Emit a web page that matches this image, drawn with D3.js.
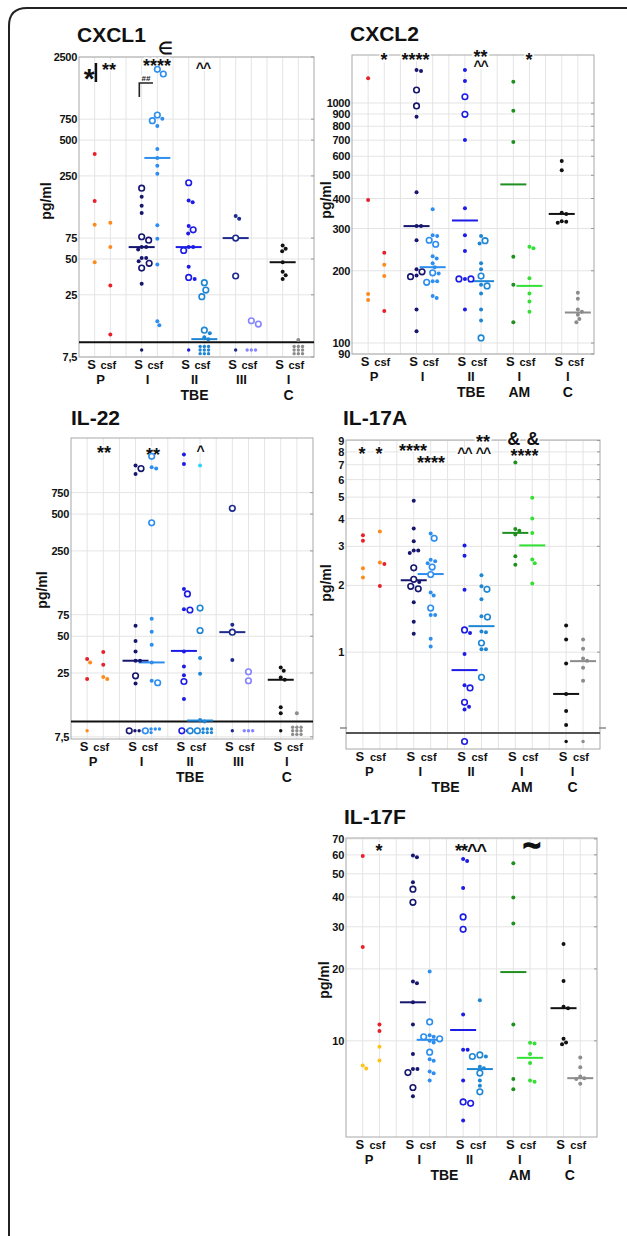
<!DOCTYPE html>
<html><head><meta charset="utf-8">
<script src="https://cdn.jsdelivr.net/npm/d3@7"></script>
<style>
body{margin:0;background:#fff}
svg text{font-family:"Liberation Sans",Arial,Helvetica,sans-serif;font-weight:bold;fill:#111}
</style>
</head><body>
<svg id="c" width="627" height="1236"></svg>
<script>
// ---------- categories ----------
const CATS_TBE = ["P","TBE-I","TBE-II","TBE-III","C"];
const CATS_AM  = ["P","TBE-I","TBE-II","AM","C"];
const NUMERAL  = {"P":"P","TBE-I":"I","TBE-II":"II","TBE-III":"III","AM":"I","C":"I"};

// ---------- tick labels ----------
const CXCL1_TICKS = [2500,750,500,250,75,50,25,7.5];
const CXCL2_TICKS = [1000,900,800,700,600,500,400,300,200,100,90];
const IL22_TICKS  = [750,500,250,75,50,25,7.5];
const IL17A_TICKS = [9,8,7,6,5,4,3,2,1];
const IL17F_TICKS = [70,60,50,40,30,20,10];

// ---------- data: [category, sample, marker (d = dot, o = open circle), values (pg/ml), colour key] ----------
const CXCL1_POINTS = [
  ["P","S","d",[382,154],"red"],["P","S","d",[97,47],"orange"],
  ["P","csf","d",[101,63],"orange"],["P","csf","d",[30,11.6],"red"],
  ["TBE-I","S","d",[167,140,122,63,63,60,51,51,48,31]],
  ["TBE-I","S","o",[197,72,77,46,42]],
  ["TBE-I","csf","d",[757,657,421,354,305,261,96,74,45,15.0,13.9]],
  ["TBE-I","csf","o",[1968,1799,728,813]],
  ["TBE-II","S","d",[155,150,95,82,63,63,43,34]],
  ["TBE-II","S","o",[219,88,59,35]],
  ["TBE-II","csf","d",[11.9,11.0,10.6]],
  ["TBE-II","csf","o",[31.6,27.4,24.1,12.6]],
  ["TBE-III","S","d",[115,109]],["TBE-III","S","o",[75,36]],
  ["TBE-III","csf","o",[15.1,14.2]],
  ["C","S","d",[65,61,58,47,39,36.5,34]],
  ["C","csf","d",[10.4]]
];
// below limit of detection: [category, sample, open circles, dots, colour key]
const CXCL1_BELOW = [["TBE-I","S",0,1],["TBE-II","S",0,1],["TBE-II","csf",0,9],["TBE-III","S",0,1],["TBE-III","csf",0,3],["C","csf",0,9]];
const CXCL1_MEDIANS = [["TBE-I","S",63],["TBE-I","csf",354],["TBE-II","S",63],["TBE-II","csf",10.6],["TBE-III","S",75],["C","S",47]];

const CXCL2_POINTS = [
  ["P","S","d",[1267,394],"red"],["P","S","d",[160,151],"orange"],
  ["P","csf","d",[238,136],"red"],["P","csf","d",[212,190],"orange"],
  ["TBE-I","S","d",[1359,1373,877,425,307,307,268,203,191,138,112]],
  ["TBE-I","S","o",[1133,972,198,189]],
  ["TBE-I","csf","d",[361,281,279,230,225,215,207,195,181,181,157,154]],
  ["TBE-I","csf","o",[268,258,196,179]],
  ["TBE-II","S","d",[1373,1235,701,364,281,242,185,138]],
  ["TBE-II","S","o",[1062,897,185,185]],
  ["TBE-II","csf","d",[279,260,215,203,175,161,138,124]],
  ["TBE-II","csf","o",[267,190,173,105]],
  ["AM","S","d",[1227,929,688,229,175,122]],
  ["AM","csf","d",[252,248,186,161,149,135]],
  ["C","S","d",[573,525,349,345,322,320,317]],
  ["C","csf","d",[162,153,138,135,131,126,122]]
];
const CXCL2_BELOW = [];
const CXCL2_MEDIANS = [["TBE-I","S",307],["TBE-I","csf",207],["TBE-II","S",324],["TBE-II","csf",181],["AM","S",458],["AM","csf",173],["C","S",345],["C","csf",134]];

const IL22_POINTS = [
  ["P","S","d",[32.5,22.3],"red"],["P","S","d",[30.5],"orange"],
  ["P","csf","d",[37.1,29.2],"red"],["P","csf","d",[23.2,22.3],"orange"],
  ["TBE-I","S","d",[1249,1067,61,45.6,37.5,31.5,31.5,20.5]],
  ["TBE-I","S","o",[1180,23.7]],
  ["TBE-I","csf","d",[1207,1180,69.5,54.4,42.6,30.5,21.6]],
  ["TBE-I","csf","o",[1487,424,20.8]],
  ["TBE-II","S","d",[1535,1288,122,83,37.5,28.3,24,15.3]],
  ["TBE-II","S","o",[111,82,21.3]],
  ["TBE-II","csf","d",[33.1,24.6,10.3,10.0]],
  ["TBE-II","csf","d",[1249],"cyan"],
  ["TBE-II","csf","o",[85,55.7]],
  ["TBE-III","S","d",[62,32]],["TBE-III","S","o",[558,54]],
  ["TBE-III","csf","o",[25.6,21.6]],
  ["C","S","d",[27.7,26.1,23,22,13.1,11.7]],
  ["C","csf","d",[11.7]]
];
const IL22_BELOW = [["P","S",0,1,"orange"],["TBE-I","S",1,3],["TBE-I","csf",1,4],["TBE-II","S",1,1],["TBE-II","csf",2,6],["TBE-III","S",0,1],["TBE-III","csf",0,3],["C","S",0,1],["C","csf",0,9]];
const IL22_MEDIANS = [["TBE-I","S",31.5],["TBE-I","csf",30.5],["TBE-II","S",37.9],["TBE-II","csf",10.2],["TBE-III","S",54],["C","S",22]];

const IL17A_POINTS = [
  ["P","S","d",[3.37,3.18],"red"],["P","S","d",[2.39,2.17],"orange"],
  ["P","csf","d",[3.50,2.54],"orange"],["P","csf","d",[2.50,1.99],"red"],
  ["TBE-I","S","d",[4.82,3.61,3.16,2.87,2.87,2.80,2.07,1.68,1.37,1.21]],
  ["TBE-I","S","o",[2.40,2.13,1.93,1.98]],
  ["TBE-I","csf","d",[3.43,2.61,2.57,2.52,1.86,1.80,1.47,1.47,1.15,1.06]],
  ["TBE-I","csf","o",[3.26,2.42,2.24,1.58]],
  ["TBE-II","S","d",[3.03,2.72,1.91,1.22,0.98,0.71,0.568,0.552]],
  ["TBE-II","S","o",[1.26,0.69,0.594]],
  ["TBE-II","csf","d",[2.22,1.98,1.73,1.45,1.24,1.23,1.03,1.03]],
  ["TBE-II","csf","o",[1.92,1.44,1.10,0.77]],
  ["AM","S","d",[7.16,3.59,3.53,3.39,2.71,2.48]],
  ["AM","csf","d",[4.97,4.01,3.45,2.62,2.52,2.04]],
  ["C","S","d",[1.32,1.14,0.89,0.648,0.543,0.47]],
  ["C","csf","d",[1.14,1.035,0.937,0.914,0.85,0.743]]
];
const IL17A_BELOW = [["TBE-II","S",1,0],["C","S",0,1],["C","csf",0,1]];
const IL17A_MEDIANS = [["TBE-I","S",2.11],["TBE-I","csf",2.25],["TBE-II","S",0.83],["TBE-II","csf",1.31],["AM","S",3.45],["AM","csf",3.03],["C","S",0.648],["C","csf",0.911]];

const IL17F_POINTS = [
  ["P","S","d",[59.4,24.7],"red"],["P","S","d",[7.89,7.66],"yellow"],
  ["P","csf","d",[11.7,11.0],"red"],["P","csf","d",[9.44,8.28],"yellow"],
  ["TBE-I","S","d",[59.6,58.7,46.1,17.7,17.4,14.5,11.7,8.80,7.62,7.62,5.87]],
  ["TBE-I","S","o",[43.1,38.0,7.37,6.38]],
  ["TBE-I","csf","d",[19.5,10.56,10.4,10.0,9.84,8.38,8.25,7.44,7.32,6.82]],
  ["TBE-I","csf","o",[12.0,10.4,10.2,8.97]],
  ["TBE-II","S","d",[57.6,56.6,43.6,12.9,9.17,9.17,6.82,4.64]],
  ["TBE-II","S","o",[33.0,29.3,5.48,5.55]],
  ["TBE-II","csf","d",[14.8,8.6,7.80,7.68,6.82,6.49]],
  ["TBE-II","csf","o",[8.73,8.6,7.33,6.12]],
  ["AM","S","d",[55.4,39.8,31.0,11.7,6.92,6.28]],
  ["AM","csf","d",[9.81,9.74,8.82,8.07,6.82,6.74]],
  ["C","S","d",[25.4,17.8,13.9,13.7,10.2,9.84,9.68]],
  ["C","csf","d",[8.52,7.76,7.09,6.98,6.93,6.61]]
];
const IL17F_BELOW = [];
const IL17F_MEDIANS = [["TBE-I","S",14.5],["TBE-I","csf",10.1],["TBE-II","S",11.1],["TBE-II","csf",7.62],["AM","S",19.4],["AM","csf",8.49],["C","S",13.7],["C","csf",6.98]];

// significance marks: [text, x slot, baseline offset from plot top, font size, heavy]
const CXCL1_MARKS = [["**",0.91,19,18],["****",3.98,15,18],["^^",6.91,16,14],["\u2208",4.49,-3,17],["##",3.28,24,8]];
const CXCL2_MARKS = [["*",0.98,11,18],["****",2.93,11,18],["**",6.97,8,18],["^^",6.97,16,14],["*",9.97,11,18]];
const IL22_MARKS  = [["**",1.05,21,18],["**",4.08,23,18],["^",7.0,18,14]];
const IL17A_MARKS = [["*",-0.05,20,18],["*",0.95,20,18],["****",2.96,17,18],["****",4.02,29,18],["^^",6.0,18,14],["^^",7.09,18,14],["**",7.09,8,18],["&",8.9,4.5,18],["&",10.05,4.5,18],["****",9.54,22,18]];
const IL17F_MARKS = [["*",0.97,19,18],["**^^",6.44,19,18],["~",10.1,18,30,1]];

// ---------- styling ----------
const CELL_COLOR = {"TBE-I|S":"#16166e","TBE-I|csf":"#2d8ef0","TBE-II|S":"#1c1ce6","TBE-II|csf":"#1f86d4",
  "TBE-III|S":"#1d2b8c","TBE-III|csf":"#8585ff","AM|S":"#1f8f1f","AM|csf":"#33e033","C|S":"#111111","C|csf":"#8c8c8c"};
const KEY_COLOR = {red:"#e8202a",orange:"#ff8a1c",yellow:"#ffc21a",cyan:"#2ed3f5"};

const panels = [
  {title:"CXCL1",cats:CATS_TBE,pts:CXCL1_POINTS,below:CXCL1_BELOW,med:CXCL1_MEDIANS,marks:CXCL1_MARKS,ticks:CXCL1_TICKS,
   box:{l:79,t:57,r:314,b:357},domain:[7.5,2500],lod:10,titleX:77,titleY:42,ylabX:47,ylabY:201,tbe:2,extra:"cxcl1"},
  {title:"CXCL2",cats:CATS_AM,pts:CXCL2_POINTS,below:CXCL2_BELOW,med:CXCL2_MEDIANS,marks:CXCL2_MARKS,ticks:CXCL2_TICKS,
   box:{l:352,t:55,r:594,b:354},domain:[90,1585],titleX:350,titleY:41,ylabX:327,ylabY:200,tbe:2},
  {title:"IL-22",cats:CATS_TBE,pts:IL22_POINTS,below:IL22_BELOW,med:IL22_MEDIANS,marks:IL22_MARKS,ticks:IL22_TICKS,
   box:{l:71,t:438,r:313,b:739},domain:[7.2,2100],lod:10,titleX:71,titleY:425,ylabX:43,ylabY:590,tbe:2},
  {title:"IL-17A",cats:CATS_AM,pts:IL17A_POINTS,below:IL17A_BELOW,med:IL17A_MEDIANS,marks:IL17A_MARKS,ticks:IL17A_TICKS,
   box:{l:346,t:440,r:600,b:749},scaleBottom:728,lodY:733,domain:[0.455,9.05],titleX:343,titleY:425,ylabX:327,ylabY:583,tbe:1.5},
  {title:"IL-17F",cats:CATS_AM,pts:IL17F_POINTS,below:IL17F_BELOW,med:IL17F_MEDIANS,marks:IL17F_MARKS,ticks:IL17F_TICKS,
   box:{l:346,t:838,r:597,b:1137},domain:[3.96,70.6],titleX:344,titleY:824,ylabX:325,ylabY:980,tbe:1.5}
];

const svg = d3.select("#c");
svg.append("path").attr("d","M9,1236 V26 Q9,8 27,8 H627").attr("fill","none").attr("stroke","#222").attr("stroke-width",2);

panels.forEach(drawPanel);

function drawPanel(p){
  const g = svg.append("g");
  const {l,t,r,b} = p.box;
  const sb = p.scaleBottom || b;
  const y = d3.scaleLog().domain(p.domain).range([sb,t]);
  const x = d3.scaleLinear().domain([-1,14]).range([l,r]);
  const slotOf = (cat,sub)=>p.cats.indexOf(cat)*3+(sub==="S"?0:1);
  const colorOf = (cat,sub,key)=> key ? KEY_COLOR[key] : CELL_COLOR[cat+"|"+sub];

  // grid
  g.append("g").selectAll("line").data(d3.range(0,14)).join("line")
    .attr("x1",d=>x(d)).attr("x2",d=>x(d)).attr("y1",t).attr("y2",b)
    .attr("stroke","#e4e4e4").attr("stroke-width",1);
  g.append("g").selectAll("line").data(p.ticks).join("line")
    .attr("x1",l).attr("x2",r).attr("y1",d=>y(d)).attr("y2",d=>y(d))
    .attr("stroke","#e4e4e4").attr("stroke-width",1);
  g.append("rect").attr("x",l).attr("y",t).attr("width",r-l).attr("height",b-t)
    .attr("fill","none").attr("stroke","#a8a8a8").attr("stroke-width",1);
  g.append("g").selectAll("line").data(p.ticks).join("line")
    .attr("x1",r-3).attr("x2",r).attr("y1",d=>y(d)).attr("y2",d=>y(d)).attr("stroke","#999");

  // axis
  const ax = d3.axisLeft(y).tickValues(p.ticks).tickSize(0).tickPadding(2)
    .tickFormat(d=> d===7.5 ? "7,5" : String(d));
  const ag = g.append("g").attr("transform",`translate(${l},0)`).call(ax);
  ag.select(".domain").remove();
  ag.selectAll("text").attr("font-size",11).attr("font-family",null).style("letter-spacing","-0.3px");

  // broken axis marks
  if(p.scaleBottom){
    [[l-6,l+1],[r-1,r+6]].forEach(([a,c])=>g.append("line").attr("x1",a).attr("x2",c)
      .attr("y1",sb).attr("y2",sb).attr("stroke","#888").attr("stroke-width",1.5));
  }

  // LOD line
  let lodY = null;
  if(p.lod) lodY = y(p.lod);
  if(p.lodY) lodY = p.lodY;
  if(lodY!==null){
    g.append("line").attr("x1",l).attr("x2",r).attr("y1",lodY).attr("y2",lodY)
      .attr("stroke", p.lodY ? "#555" : "#111").attr("stroke-width",2);
  }

  // title & y label
  g.append("text").attr("x",p.titleX).attr("y",p.titleY).attr("font-size",21).text(p.title);
  g.append("text").attr("transform",`translate(${p.ylabX},${p.ylabY}) rotate(-90)`)
    .attr("text-anchor","middle").attr("dominant-baseline","middle").attr("font-size",14).text("pg/ml");

  // x labels
  p.cats.forEach((c,i)=>{
    g.append("text").attr("x",x(i*3)-3).attr("y",b+12).attr("text-anchor","middle").attr("font-size",13).text("S");
    g.append("text").attr("x",x(i*3+1)-2).attr("y",b+12).attr("text-anchor","middle").attr("font-size",11).text("csf");
    g.append("text").attr("x",x(i*3+0.5)-2).attr("y",b+27).attr("text-anchor","middle").attr("font-size",13).text(NUMERAL[c]);
  });
  const bottomLabels = [["TBE",p.tbe]];
  if(p.cats.includes("AM")) bottomLabels.push(["AM",p.cats.indexOf("AM")]);
  bottomLabels.push(["C",p.cats.indexOf("C")]);
  bottomLabels.forEach(([txt,gi])=>g.append("text").attr("x",x(gi*3+0.5)-2).attr("y",b+43)
    .attr("text-anchor","middle").attr("font-size",14).text(txt));

  // significance marks
  p.marks.forEach(([txt,s,dy,fs,heavy])=>{
    const tx = g.append("text").attr("x",x(s)).attr("y",t+dy).attr("text-anchor","middle").attr("font-size",fs).text(txt);
    if(heavy) tx.attr("stroke","#111").attr("stroke-width",1.6);
    else tx.attr("stroke","#fff").attr("stroke-width",3).attr("paint-order","stroke");
    if(txt.indexOf("^")>=0) tx.style("letter-spacing","-1px");
  });
  if(p.extra==="cxcl1"){
    g.append("text").attr("x",x(-0.35)).attr("y",t+31).attr("text-anchor","middle").attr("font-size",28).text("*");
    g.append("line").attr("x1",x(0.08)).attr("x2",x(0.08)).attr("y1",t+6).attr("y2",t+25).attr("stroke","#111").attr("stroke-width",2.5);
    g.append("path").attr("d",`M${x(2.85)},${t+40} V${t+26} H${x(3.72)}`).attr("fill","none").attr("stroke","#222").attr("stroke-width",1.6);
  }

  // median lines
  g.append("g").selectAll("line").data(p.med).join("line")
    .attr("x1",d=>x(slotOf(d[0],d[1]))-13).attr("x2",d=>x(slotOf(d[0],d[1]))+13)
    .attr("y1",d=>y(d[2])).attr("y2",d=>y(d[2]))
    .attr("stroke",d=>colorOf(d[0],d[1])).attr("stroke-width",2);

  // points with simple beeswarm placement
  const items = [];
  p.pts.forEach(([cat,sub,mk,vals,key])=>vals.forEach(v=>items.push({
    cat,sub,mk,v,col:colorOf(cat,sub,key),cy:y(v),rad:mk==="o"?3.6:2.0})));
  const cells = d3.group(items,d=>d.cat+"|"+d.sub);
  const cands = [0]; for(let k=0.5;k<=20;k+=0.5){cands.push(k,-k);}
  cells.forEach(arr=>{
    arr.sort((a,b)=>a.cy-b.cy);
    const placed=[];
    arr.forEach(pt=>{
      for(const dx of cands){
        const ok = placed.every(q=>{const lim=pt.rad+q.rad+0.3;return (dx-q.dx)**2+(pt.cy-q.cy)**2>=lim*lim;});
        if(ok){pt.dx=dx;break;}
      }
      if(pt.dx===undefined) pt.dx=0;
      placed.push(pt);
    });
    arr.forEach(pt=>pt.cx=x(slotOf(pt.cat,pt.sub))+pt.dx);
  });
  g.append("g").selectAll("circle").data(items.filter(d=>d.mk==="d")).join("circle")
    .attr("cx",d=>d.cx).attr("cy",d=>d.cy).attr("r",2.0).attr("fill",d=>d.col);
  g.append("g").selectAll("circle").data(items.filter(d=>d.mk==="o")).join("circle")
    .attr("cx",d=>d.cx).attr("cy",d=>d.cy).attr("r",2.8).attr("fill","#fff")
    .attr("stroke",d=>d.col).attr("stroke-width",1.6);

  // below detection limit
  if(lodY!==null){
    const cyc = (lodY+b)/2+0.5;
    p.below.forEach(([cat,sub,nR,nD,key])=>{
      const col = colorOf(cat,sub,key);
      const cx = x(slotOf(cat,sub));
      const cols = Math.min(nD,3), rows = Math.ceil(nD/3);
      const wR = nR*7.2, wD = cols*4.2;
      const x0 = cx-(wR+wD)/2;
      for(let i=0;i<nR;i++) g.append("circle").attr("cx",x0+3.6+i*7.2).attr("cy",cyc).attr("r",2.8)
        .attr("fill","#fff").attr("stroke",col).attr("stroke-width",1.6);
      for(let j=0;j<nD;j++){
        const c=j%3, rr=Math.floor(j/3);
        g.append("circle").attr("cx",x0+wR+2.1+c*4.2).attr("cy",cyc+(rr-(rows-1)/2)*3.6)
          .attr("r",1.7).attr("fill",col);
      }
    });
  }
}
</script>
</body></html>
